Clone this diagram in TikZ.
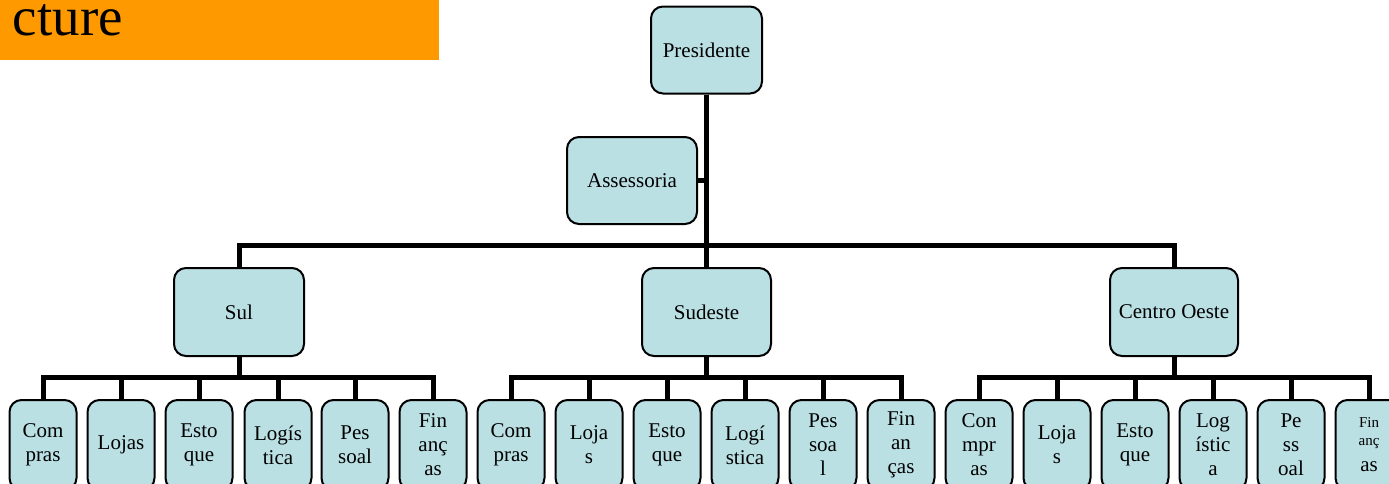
\documentclass[tikz,border=0pt]{standalone}
\usepackage{fontspec}
\setmainfont{Liberation Serif}
\definecolor{boxfill}{RGB}{186,224,228}
\definecolor{titleorange}{RGB}{255,153,0}
\begin{document}
\begin{tikzpicture}[x=1pt,y=-1pt,
  unit/.style={draw=black, line width=2pt, fill=boxfill, rounded corners=12pt,
    align=center, inner sep=0pt, font=\fontsize{21}{24}\selectfont},
  headbox/.style={unit, minimum width=#1, minimum height=87pt},
  dept/.style={unit, minimum width=67pt, minimum height=90pt, text width=62pt},
  conn/.style={line width=5pt, line join=miter}]
\useasboundingbox (0,0) rectangle (1389,483);
\clip (0,0) rectangle (1389,483);

% title banner
\fill[titleorange] (0,0) rectangle (439,60);
\node[anchor=base east, inner sep=0pt, font=\fontsize{55}{60}\selectfont] (title) at (123,35) {cture};

% top level
\node[headbox=111pt] (pres) at (706.5,50) {Presidente};
\node[headbox=130pt] (assess) at (632,180.5) {Assessoria};

% regional offices
\node[headbox=130pt, minimum height=88pt] (sul) at (239,312) {Sul};
\node[headbox=129pt, minimum height=88pt] (sudeste) at (706.5,312) {Sudeste};
\node[headbox=128pt, minimum height=88pt] (centro) at (1174,312) {Centro Oeste};

% departments: Sul
\node[dept] (s1) at (43,445) {Com\\pras};
\node[dept] (s2) at (121,445) {Lojas};
\node[dept] (s3) at (199,445) {Esto\\que};
\node[dept] (s4) at (278,445) {Logís\\tica};
\node[dept] (s5) at (355,445) {Pes\\soal};
\node[dept] (s6) at (433,445) {Fin\\anç\\as};

% departments: Sudeste
\node[dept] (d1) at (511,445) {Com\\pras};
\node[dept] (d2) at (589,445) {Loja\\s};
\node[dept] (d3) at (667,445) {Esto\\que};
\node[dept] (d4) at (745,445) {Logí\\stica};
\node[dept] (d5) at (823,445) {Pes\\soa\\l};
\node[dept] (d6) at (901,445) {Fin\\an\\ças};

% departments: Centro Oeste
\node[dept] (c1) at (979,445) {Con\\mpr\\as};
\node[dept] (c2) at (1057,445) {Loja\\s};
\node[dept] (c3) at (1135,445) {Esto\\que};
\node[dept] (c4) at (1213,445) {Log\\ístic\\a};
\node[dept] (c5) at (1291,445) {Pe\\ss\\oal};
\node[dept] (c6) at (1369,445) {\fontsize{15}{18}\selectfont Fin\\anç\\[2pt]\fontsize{21}{22}\selectfont as};

% junction points of the bus lines
\coordinate (hub) at (706.5,245);
\coordinate (sulhub) at (239,377);
\coordinate (sudhub) at (706.5,377);
\coordinate (cenhub) at (1174,377);

% connectors
\draw[conn] (pres.south) -- (pres.south |- hub);
\draw[conn] (assess.east) -- (assess.east -| hub);
\draw[conn] (sul.north) |- (hub) -| (centro.north);
\draw[conn] (hub) -- (sudeste.north);

\draw[conn] (sul.south) -- (sulhub);
\draw[conn] (s1.north) |- (sulhub) -| (s6.north);
\foreach \n in {s2,s3,s4,s5} \draw[conn] (\n.north) -- (\n.north |- sulhub);

\draw[conn] (sudeste.south) -- (sudhub);
\draw[conn] (d1.north) |- (sudhub) -| (d6.north);
\foreach \n in {d2,d3,d4,d5} \draw[conn] (\n.north) -- (\n.north |- sudhub);

\draw[conn] (centro.south) -- (cenhub);
\draw[conn] (c1.north) |- (cenhub) -| (c6.north);
\foreach \n in {c2,c3,c4,c5} \draw[conn] (\n.north) -- (\n.north |- cenhub);
\end{tikzpicture}
\end{document}
